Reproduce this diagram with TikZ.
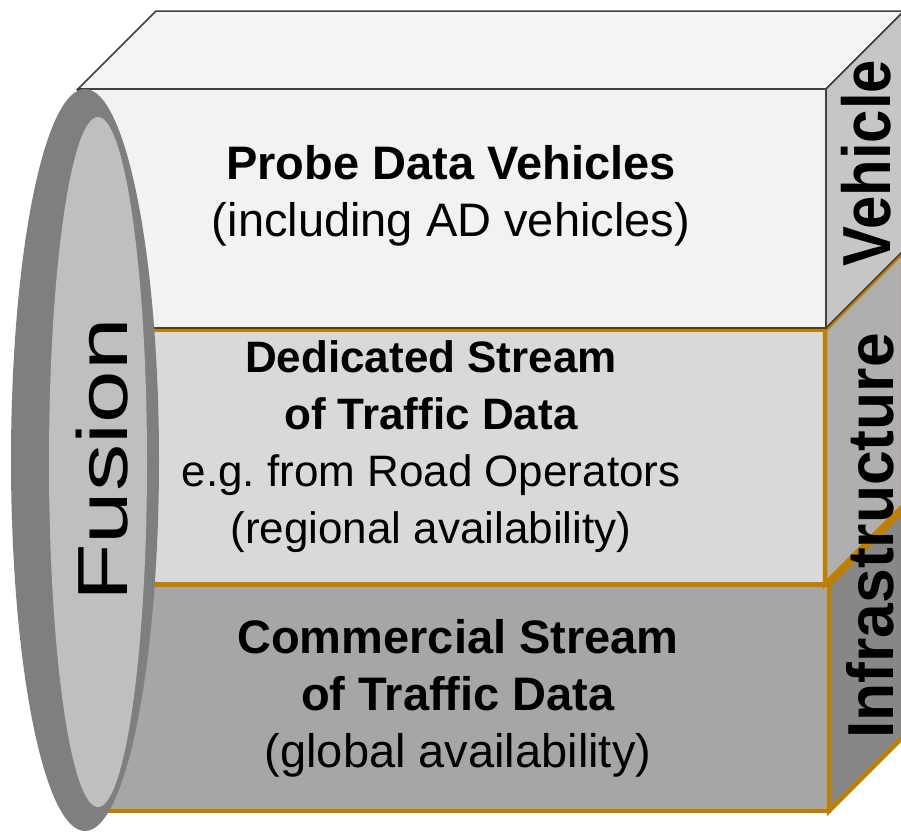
\documentclass[tikz,border=0pt]{standalone}
\usepackage{fontspec}
\setmainfont{Liberation Sans}
\usepackage{xcolor}
\usepackage{tikz}
\usetikzlibrary{positioning}
\definecolor{edgegray}{HTML}{404040}
\definecolor{streamorange}{HTML}{BF7F00}
\definecolor{probefront}{HTML}{F2F2F2}
\definecolor{probetop}{HTML}{F4F4F4}
\definecolor{probeside}{HTML}{C6C6C6}
\definecolor{dedfront}{HTML}{D9D9D9}
\definecolor{dedside}{HTML}{AFAFAF}
\definecolor{commfront}{HTML}{A6A6A6}
\definecolor{commside}{HTML}{878787}
\definecolor{fusionring}{HTML}{7F7F7F}
\definecolor{fusioncore}{HTML}{BFBFBF}
\frenchspacing

\begin{document}
\begin{tikzpicture}[
  x=1pt, y=-1pt,
  topcube/.style={draw=edgegray, line width=1.5pt, line join=miter},
  streamcube/.style={draw=streamorange, line width=4.5pt, line join=miter},
  blocktext/.style={align=center, inner sep=0pt, font=\fontsize{47}{57}\selectfont},
  sidelabel/.style={rotate=90, inner sep=0pt}
]
  \useasboundingbox (0,0) rectangle (901,831);
  \clip (0,0) rectangle (901,831);

  % Commercial stream (bottom layer)
  \filldraw[streamcube, fill=commfront] (78,585) rectangle (829,811);
  \filldraw[streamcube, fill=commside] (829,585) -- (907,507) -- (907,733) -- (829,811) -- cycle;

  % Dedicated stream (middle layer)
  \filldraw[streamcube, fill=dedfront] (78,330) rectangle (825,584);
  \filldraw[streamcube, fill=dedside] (825,330) -- (903,252) -- (903,506) -- (825,584) -- cycle;

  % Probe data vehicles (top layer)
  \filldraw[topcube, fill=probetop] (78,89) -- (156,11) -- (904,11) -- (826,89) -- cycle;
  \filldraw[topcube, fill=probeside] (826,89) -- (904,11) -- (904,250) -- (826,328) -- cycle;
  \filldraw[topcube, fill=probefront] (78,89) rectangle (826,328);

  % Fusion ring
  \fill[fusionring] (85,460) ellipse [x radius=74, y radius=371];
  \fill[fusioncore] (98,462) ellipse [x radius=49, y radius=345];
  \node[sidelabel, font=\fontsize{71}{71}\selectfont] (fusion) at (102,460) {\scalebox{1.33}[1]{Fusion}};

  % Layer texts
  \node[blocktext] (probe) at (451,196) {\textbf{Probe Data Vehicles}\\(including AD vehicles)};
  \node[blocktext, font=\fontsize{44}{57}\selectfont] (dedicated) at (431,447) {\textbf{Dedicated Stream}\\\textbf{of Traffic Data}\\e.g. from Road Operators\\(regional availability)};
  \node[blocktext] (commercial) at (458,698) {\textbf{Commercial Stream}\\\textbf{of Traffic Data}\\(global availability)};

  % Side labels
  \node[sidelabel, font=\fontsize{68}{68}\selectfont\bfseries] (vehicle) at (866,163) {\scalebox{0.88}[1]{Vehicle}};
  \node[sidelabel, font=\fontsize{65}{65}\selectfont\bfseries] (infra) at (870,536) {\scalebox{0.96}[1]{Infrastructure}};
\end{tikzpicture}
\end{document}
